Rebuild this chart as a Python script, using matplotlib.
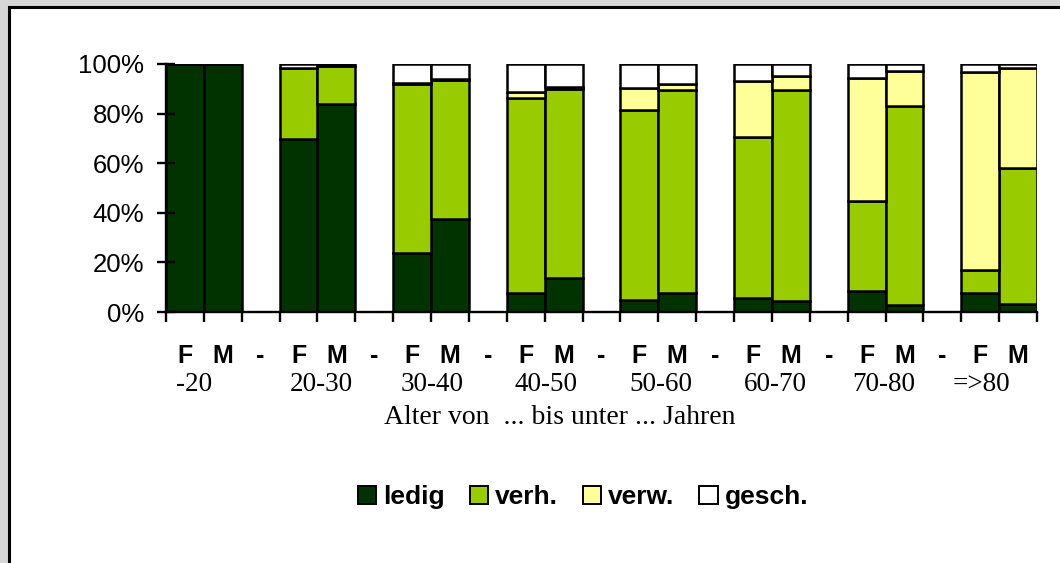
import matplotlib.pyplot as plt
import numpy as np
from matplotlib.patches import Rectangle, Patch
from matplotlib.ticker import PercentFormatter

# age groups, each with a female (F) and male (M) bar
age_groups = ['-20', '20-30', '30-40', '40-50', '50-60', '60-70', '70-80', '=>80']
status = ['ledig', 'verh.', 'verw.', 'gesch.']
colors = ['#003300', '#99cc00', '#ffff99', '#ffffff']

# shares in % (F, M per age group)
ledig_f = [100.0, 69.6, 23.6, 7.8, 4.7, 5.8, 8.5, 7.8]
verh_f = [0.0, 28.6, 68.3, 78.3, 76.7, 64.6, 36.3, 9.0]
verw_f = [0.0, 0.2, 0.6, 2.7, 8.8, 22.9, 49.7, 80.0]
gesch_f = [0.0, 1.6, 7.5, 11.2, 9.8, 6.7, 5.5, 3.2]

ledig_m = [100.0, 83.9, 37.7, 13.9, 7.8, 4.6, 3.0, 3.4]
verh_m = [0.0, 15.3, 55.8, 75.9, 81.7, 84.8, 80.0, 54.5]
verw_m = [0.0, 0.0, 0.5, 0.8, 2.3, 5.8, 14.2, 40.4]
gesch_m = [0.0, 0.8, 6.0, 9.4, 8.2, 4.8, 2.8, 1.7]

W, H = 1060, 563
fig = plt.figure(figsize=(W / 100, H / 100), dpi=100, facecolor='#d6d6d6')
fig.patches.append(Rectangle((9 / W, -0.1), 1.2, 1 - 7 / H + 0.1, transform=fig.transFigure,
                             facecolor='white', edgecolor='black', linewidth=2.2, zorder=-10))

ax = fig.add_axes([166 / W, 1 - 312 / H, (1037 - 166) / W, (312 - 64) / H])
ax.set_facecolor('none')

n = len(age_groups)
ncat = 3 * n - 1
x_f = np.arange(n) * 3
x_m = x_f + 1

f_data = [ledig_f, verh_f, verw_f, gesch_f]
m_data = [ledig_m, verh_m, verw_m, gesch_m]
bottom_f = np.zeros(n)
bottom_m = np.zeros(n)
for vals_f, vals_m, c in zip(f_data, m_data, colors):
    ax.bar(x_f, vals_f, width=1.0, bottom=bottom_f, color=c, edgecolor='black', linewidth=1.8)
    ax.bar(x_m, vals_m, width=1.0, bottom=bottom_m, color=c, edgecolor='black', linewidth=1.8)
    bottom_f += np.array(vals_f)
    bottom_m += np.array(vals_m)

ax.set_xlim(-0.5, ncat - 0.5)
ax.set_ylim(0, 100)
for s in ['top', 'right']:
    ax.spines[s].set_visible(False)
for s in ['left', 'bottom']:
    ax.spines[s].set_linewidth(1.7)

ax.set_yticks(np.arange(0, 101, 20))
ax.yaxis.set_major_formatter(PercentFormatter(decimals=0))
ax.tick_params(axis='y', direction='inout', length=13.5, width=1.7, labelsize=18.5, pad=9)
for lab in ax.get_yticklabels():
    lab.set_fontfamily('Liberation Sans')

# category labels F / M / - centred, boundary ticks pointing down
cat_labels = []
for g in range(n):
    cat_labels += ['F', 'M'] + (['-'] if g < n - 1 else [])
ax.set_xticks(np.arange(ncat))
ax.set_xticklabels(cat_labels, fontfamily='Liberation Sans', fontweight='bold', fontsize=18)
ax.tick_params(axis='x', which='major', length=0, pad=23)
ax.set_xticks(np.arange(ncat + 1) - 0.5, minor=True)
ax.tick_params(axis='x', which='minor', direction='out', length=7, width=1.7)

# age group labels below
label_shift = [0.25, 0.61, 0.52, 0.53, 0.56, 0.59, 0.45, 0.02]
trans = ax.get_xaxis_transform()
for g, lab in enumerate(age_groups):
    ax.text(x_f[g] + label_shift[g], -0.293, lab, transform=trans, ha='center', va='center',
            fontfamily='Liberation Serif', fontsize=19.5)

fig.text(560 / W, 1 - 418 / H, 'Alter von  ... bis unter ... Jahren', ha='center', va='center',
         fontfamily='Liberation Serif', fontsize=20)

handles = [Patch(facecolor=c, edgecolor='black', linewidth=1.4) for c in colors]
fig.legend(handles, status, loc='center', bbox_to_anchor=(583 / W, 1 - 497 / H), ncol=4,
           frameon=False, handlelength=0.7, handleheight=0.7, handletextpad=0.25,
           columnspacing=0.95, prop={'family': 'Liberation Sans', 'weight': 'bold', 'size': 19})

fig.savefig('out.png', dpi=100, facecolor=fig.get_facecolor())
